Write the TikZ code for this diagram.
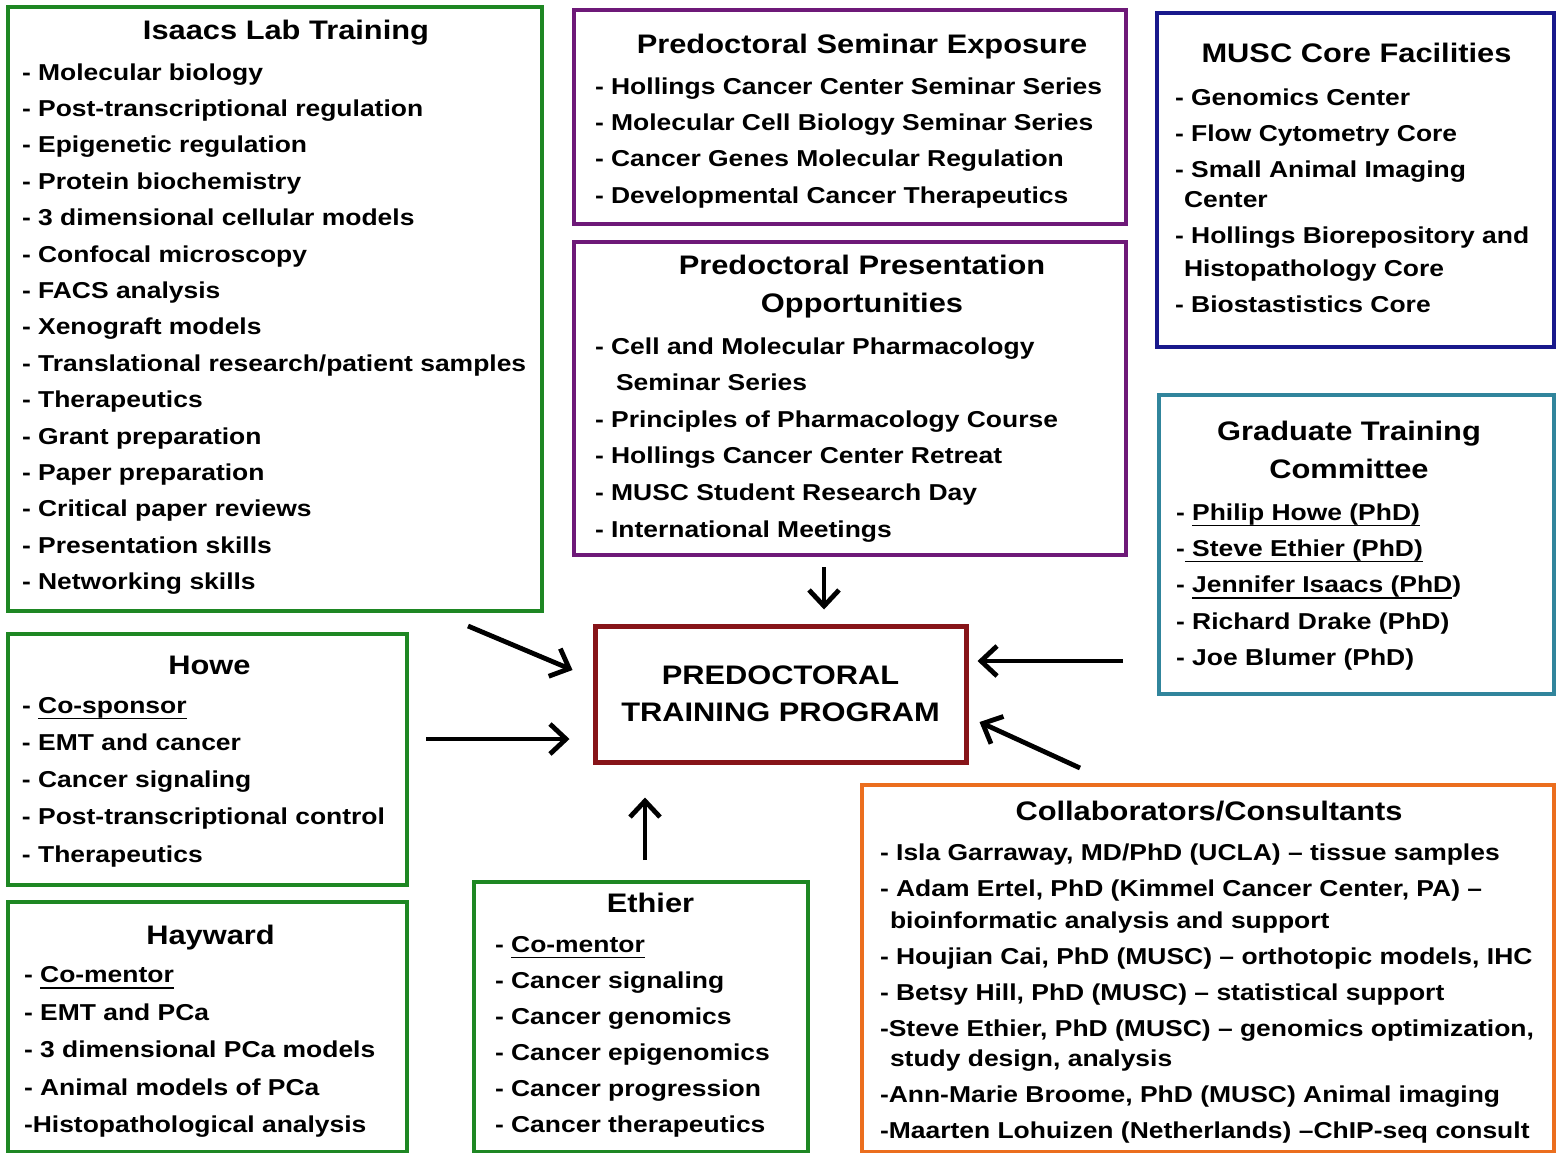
\documentclass[tikz,border=0pt]{standalone}
\usepackage{fontspec}
\setmainfont{Liberation Sans}[FakeStretch=1.15]
\usetikzlibrary{arrows.meta}

\definecolor{grn}{RGB}{30,135,35}
\definecolor{prp}{RGB}{110,25,120}
\definecolor{nvy}{RGB}{25,25,140}
\definecolor{tealb}{RGB}{49,133,156}
\definecolor{dred}{RGB}{135,20,25}
\definecolor{orng}{RGB}{235,110,30}

%% title line of a panel, #1 moves it sideways (twice the shift)
\newcommand{\ttlfont}{\bfseries\fontsize{13.4}{19}\selectfont}
\newcommand{\ttl}[2][0pt]{{\centering\ttlfont\hspace*{#1}\rule{0pt}{12pt}#2\par}}
%% one item line
\newcommand{\itm}[1]{\par\mbox{#1}}
\newcommand{\undl}[1]{\setbox0=\hbox{#1}\rlap{\rule[-3pt]{\wd0}{0.7pt}}\box0}
%% width, height, inset, item skip, body
\newcommand{\panel}[5]{\parbox[c][#2][t]{#1}{\raggedright\parindent=0pt
  \bfseries\fontsize{11.5}{#4}\selectfont\leftskip=#3\relax #5}}

\begin{document}
\begin{tikzpicture}[x=0.5pt,y=-0.5pt,
    box/.style={line width=2pt,inner sep=0pt,anchor=north west},
    arr/.style={line width=2.4pt,-{Straight Barb[length=8pt,width=15pt]}}]
  \useasboundingbox (0,0) rectangle (1556,1152);
  %% left column
  \node[box,draw=grn] (isaacs) at (6,5) {\panel{267pt}{302pt}{7pt}{18.2pt}{%
    \vspace*{4pt}\ttl[11pt]{Isaacs Lab Training}\vspace{2.3pt}
    \itm{- Molecular biology}
    \itm{- Post-transcriptional regulation}
    \itm{- Epigenetic regulation}
    \itm{- Protein biochemistry}
    \itm{- 3 dimensional cellular models}
    \itm{- Confocal microscopy}
    \itm{- FACS analysis}
    \itm{- Xenograft models}
    \itm{- Translational research/patient samples}
    \itm{- Therapeutics}
    \itm{- Grant preparation}
    \itm{- Paper preparation}
    \itm{- Critical paper reviews}
    \itm{- Presentation skills}
    \itm{- Networking skills}}};
  \node[box,draw=grn] (howe) at (6,632) {\panel{199.5pt}{125.5pt}{7pt}{18.6pt}{%
    \vspace*{8pt}\ttl[2pt]{Howe}\vspace{1pt}
    \itm{- \undl{Co-sponsor}}
    \itm{- EMT and cancer}
    \itm{- Cancer signaling}
    \itm{- Post-transcriptional control}
    \itm{- Therapeutics}}};
  \node[box,draw=grn] (hayward) at (6,900) {\panel{199.5pt}{125pt}{8pt}{18.75pt}{%
    \vspace*{9pt}\ttl[3pt]{Hayward}\vspace{0.5pt}
    \itm{- \undl{Co-mentor}}
    \itm{- EMT and PCa}
    \itm{- 3 dimensional PCa models}
    \itm{- Animal models of PCa}
    \itm{-Histopathological analysis}}};
  %% middle column
  \node[box,draw=prp] (seminar) at (572,8) {\panel{276pt}{107pt}{10.5pt}{18.2pt}{%
    \vspace*{9.5pt}\ttl[12pt]{Predoctoral Seminar Exposure}\vspace{2.3pt}
    \itm{- Hollings Cancer Center Seminar Series}
    \itm{- Molecular Cell Biology Seminar Series}
    \itm{- Cancer Genes Molecular Regulation}
    \itm{- Developmental Cancer Therapeutics}}};
  \node[box,draw=prp] (present) at (572,240) {\panel{276pt}{156.5pt}{10.5pt}{18.3pt}{%
    \vspace*{4pt}\ttl[12pt]{Predoctoral Presentation\\\hspace*{12pt}Opportunities}\vspace{2.7pt}
    \itm{- Cell and Molecular Pharmacology}
    \itm{\hspace*{10.5pt}Seminar Series}
    \itm{- Principles of Pharmacology Course}
    \itm{- Hollings Cancer Center Retreat}
    \itm{- MUSC Student Research Day}
    \itm{- International Meetings}}};
  \node[draw=dred,line width=2.5pt,minimum width=185.5pt,minimum height=68pt,
    inner sep=0pt,align=center,font=\bfseries\fontsize{13.4}{18.5}\selectfont]
    (center) at (780.5,694) {PREDOCTORAL\\TRAINING PROGRAM};
  \node[box,draw=grn] (ethier) at (472,880) {\panel{167pt}{135pt}{10.5pt}{18pt}{%
    \vspace*{3pt}\ttl[9.5pt]{Ethier}\vspace{2pt}
    \itm{- \undl{Co-mentor}}
    \itm{- Cancer signaling}
    \itm{- Cancer genomics}
    \itm{- Cancer epigenomics}
    \itm{- Cancer progression}
    \itm{- Cancer therapeutics}}};
  %% right column
  \node[box,draw=nvy] (musc) at (1155,11) {\panel{198.5pt}{167pt}{9pt}{18pt}{%
    \vspace*{12.5pt}\ttl[1pt]{MUSC Core Facilities}\vspace{3.5pt}
    \itm{- Genomics Center}
    \itm{- Flow Cytometry Core}
    \itm{- Small Animal Imaging}\vspace{-3pt}
    \itm{\hspace*{4.5pt}Center}
    \itm{- Hollings Biorepository and}\vspace{-1.5pt}
    \itm{\hspace*{4.5pt}Histopathology Core}
    \itm{- Biostastistics Core}}};
  \node[box,draw=tealb] (gtc) at (1157,393) {\panel{197.5pt}{149.5pt}{8.5pt}{18.2pt}{%
    \vspace*{10.5pt}\ttl[-7.5pt]{Graduate Training\\\hspace*{-7.5pt}Committee}\vspace{2.8pt}
    \itm{- \undl{Philip Howe (PhD)}}
    \itm{-\undl{~Steve Ethier (PhD)}}
    \itm{- \undl{Jennifer Isaacs (PhD})}
    \itm{- Richard Drake (PhD)}
    \itm{- Joe Blumer (PhD)}}};
  \node[box,draw=orng] (collab) at (860,783) {\panel{346pt}{183.5pt}{9pt}{18pt}{%
    \vspace*{5.5pt}\ttl[1pt]{Collaborators/Consultants}\vspace{2pt}
    \itm{- Isla Garraway, MD/PhD (UCLA) -- tissue samples}
    \itm{- Adam Ertel, PhD (Kimmel Cancer Center, PA) --}\vspace{-2pt}
    \itm{\hspace*{5pt}bioinformatic analysis and support}
    \itm{- Houjian Cai, PhD (MUSC) -- orthotopic models, IHC}
    \itm{- Betsy Hill, PhD (MUSC) -- statistical support}
    \itm{-Steve Ethier, PhD (MUSC) -- genomics optimization,}\vspace{-3pt}
    \itm{\hspace*{5pt}study design, analysis}
    \itm{-Ann-Marie Broome, PhD (MUSC) Animal imaging}
    \itm{-Maarten Lohuizen (Netherlands) --ChIP-seq consult}}};
  %% arrows into the program
  \coordinate (topx) at (824,0);
  \coordinate (ethx) at (645,0);
  \coordinate (isaacsarr) at (468,626);
  \coordinate (howearr) at (426,739);
  \coordinate (gtcarr) at (1123,661);
  \coordinate (collabarr) at (1080,768);
  \draw[arr,shorten <=5pt,shorten >=7pt] (present.south -| topx) -- (center.north -| topx);
  \draw[arr] (isaacsarr) -- ([xshift=-10pt,yshift=12pt]center.west);
  \draw[arr,shorten >=11.5pt] (howearr) -- (howearr -| center.west);
  \draw[arr,shorten <=10pt,shorten >=16.5pt] (ethier.north -| ethx) -- (center.south -| ethx);
  \draw[arr,shorten >=4.5pt] (gtcarr) -- (gtcarr -| center.east);
  \draw[arr] (collabarr) -- ([xshift=5.5pt,yshift=-14pt]center.east);
\end{tikzpicture}
\end{document}
